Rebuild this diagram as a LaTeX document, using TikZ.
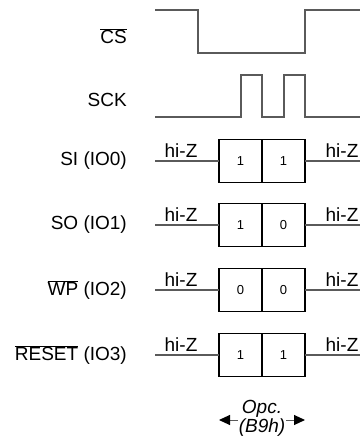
\documentclass[tikz,border=0pt]{standalone}
\usepackage{fontspec}
\setmainfont{Liberation Sans}
\usetikzlibrary{positioning, arrows.meta}

\begin{document}
\begin{tikzpicture}[x=1pt, y=-1pt,
    signal/.style={draw=waveColour, line width=1.2pt},
    bitbox/.style={draw=borderColour, line width=1.2pt, minimum width=43pt, minimum height=43pt,
        inner sep=0pt, outer sep=0pt, font=\fontsize{13}{13}\selectfont},
    pinlabel/.style={anchor=east, inner sep=0pt, font=\fontsize{19}{19}\selectfont},
    hiz/.style={anchor=base, inner sep=0pt, font=\fontsize{19}{19}\selectfont},
    widthArrow/.style={draw=waveColour, line width=1pt, -{Triangle[length=11pt, width=10pt, black]}}]

    \definecolor{waveColour}{HTML}{5A5A5A}
    \definecolor{borderColour}{HTML}{000000}

    % Fix the picture size
    \useasboundingbox (0,0) rectangle (360,439);

    % Chip select and clock
    \node[pinlabel] (cs) at (127,36) {$\overline{\mbox{CS}}$};
    \node[pinlabel] (sck) at (127,100) {SCK};
    \draw[signal] (155,10) -- (198,10) -- (198,53) -- (305,53) -- (305,10) -- (360,10);
    \draw[signal] (155,117) -- (241,117) -- (241,75) -- (262,75) -- (262,117)
        -- (284,117) -- (284,75) -- (305,75) -- (305,117) -- (360,117);

    % Data lines with two bits each
    \foreach \pin/\y/\a/\b [count=\i] in {{SI (IO0)}/161/1/1, {SO (IO1)}/225/1/0,
        {$\overline{\mbox{WP}}$ (IO2)}/290/0/0, {$\overline{\mbox{RESET}}$ (IO3)}/355/1/1} {
        \node[pinlabel] (pin\i) at (127,\y) {\pin};
        \node[bitbox] (bitA\i) at (240.5,\y) {\a};
        \node[bitbox, right=0pt of bitA\i] (bitB\i) {\b};
        \coordinate (in\i) at (155,\y);
        \coordinate (out\i) at (360,\y);
        \draw[signal] (in\i) -- (bitA\i);
        \draw[signal] (bitB\i) -- (out\i);
        \node[hiz] (hizL\i) at (181,\y-4) {hi-Z};
        \node[hiz] (hizR\i) at (342,\y-4) {hi-Z};
    }

    % Opcode width
    \node[align=center, inner sep=1pt, font=\fontsize{19}{15}\selectfont\itshape] (opc) at (262,418) {Opc.\\(B9h)};
    \coordinate (arrL) at (219,420);
    \coordinate (arrR) at (305,420);
    \draw[widthArrow] (opc.west |- arrL) -- (arrL);
    \draw[widthArrow] (opc.east |- arrR) -- (arrR);

\end{tikzpicture}
\end{document}
